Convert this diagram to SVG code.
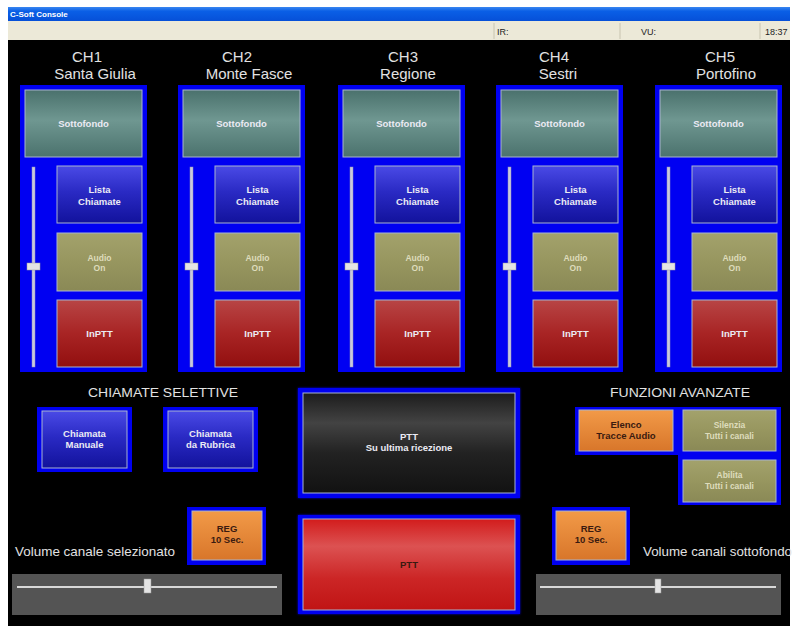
<svg xmlns="http://www.w3.org/2000/svg" width="796" height="629" viewBox="0 0 796 629">
<defs>
<linearGradient id="gTitle" x1="0" y1="0" x2="0" y2="1">
<stop offset="0" stop-color="#3a86f0"/><stop offset="0.3" stop-color="#0a5fe6"/><stop offset="1" stop-color="#0650d8"/>
</linearGradient>
<linearGradient id="gTeal" x1="0" y1="0" x2="0" y2="1">
<stop offset="0" stop-color="#4a716c"/><stop offset="0.45" stop-color="#6f9791"/><stop offset="1" stop-color="#4b726d"/>
</linearGradient>
<linearGradient id="gBlue" x1="0" y1="0" x2="0" y2="1">
<stop offset="0" stop-color="#4a4ae6"/><stop offset="0.45" stop-color="#2a2ac4"/><stop offset="1" stop-color="#12129c"/>
</linearGradient>
<linearGradient id="gOlive" x1="0" y1="0" x2="0" y2="1">
<stop offset="0" stop-color="#a3a26c"/><stop offset="0.5" stop-color="#97965f"/><stop offset="1" stop-color="#8a8956"/>
</linearGradient>
<linearGradient id="gRed" x1="0" y1="0" x2="0" y2="1">
<stop offset="0" stop-color="#b84545"/><stop offset="0.5" stop-color="#a82424"/><stop offset="1" stop-color="#920f0f"/>
</linearGradient>
<linearGradient id="gOrange" x1="0" y1="0" x2="0" y2="1">
<stop offset="0" stop-color="#f29a48"/><stop offset="1" stop-color="#d8762a"/>
</linearGradient>
<linearGradient id="gDark" x1="0" y1="0" x2="0" y2="1">
<stop offset="0" stop-color="#1c1c1c"/><stop offset="0.3" stop-color="#434343"/><stop offset="0.6" stop-color="#222"/><stop offset="1" stop-color="#121212"/>
</linearGradient>
<linearGradient id="gPtt" x1="0" y1="0" x2="0" y2="1">
<stop offset="0" stop-color="#d21c1c"/><stop offset="0.3" stop-color="#dc5252"/><stop offset="0.65" stop-color="#cc2626"/><stop offset="1" stop-color="#c01414"/>
</linearGradient>
<filter id="glow" x="-10%" y="-10%" width="120%" height="120%">
<feGaussianBlur stdDeviation="1"/>
</filter>
</defs>
<style>
.hdr{font-family:"Liberation Sans",Arial,sans-serif;font-size:15px;fill:#e2e2e2;text-anchor:middle}
.sec{font-family:"Liberation Sans",Arial,sans-serif;font-size:13.5px;fill:#e2e2e2}
.lbl{font-family:"Liberation Sans",Arial,sans-serif;font-size:9.5px;font-weight:bold;fill:#ecebf4;text-anchor:middle}
.lblo{font-family:"Liberation Sans",Arial,sans-serif;font-size:8.5px;font-weight:bold;fill:#dedcbc;text-anchor:middle}
.lbld{font-family:"Liberation Sans",Arial,sans-serif;font-size:9.5px;font-weight:bold;fill:#3a1a10;text-anchor:middle}
.st{font-family:"Liberation Sans",Arial,sans-serif;font-size:9px;fill:#222}
.panel{fill:#0000f2}
.frame{fill:#0000f0}
.btn{stroke:#a8b4d0;stroke-width:1}
.track{fill:#c9c9dc;stroke:#9090c0;stroke-width:0.5}
.thumb{fill:#e4e4e4;stroke:#9a9a9a;stroke-width:0.5}
.sbox{fill:#545454}
</style>
<rect x="0" y="0" width="796" height="629" fill="#ffffff"/>
<rect x="8" y="40" width="782" height="586" fill="#000"/>
<g id="titlebar">
<rect x="8" y="7" width="782" height="14" fill="url(#gTitle)"/>
<text x="10" y="17" font-family="Liberation Sans,Arial,sans-serif" font-size="8" font-weight="bold" fill="#fff">C-Soft Console</text>
</g>
<g id="statusbar">
<rect x="8" y="21" width="782" height="19" fill="#ece9d8"/>
<line x1="494" y1="23" x2="494" y2="39" stroke="#c8c4b0"/>
<line x1="620" y1="23" x2="620" y2="39" stroke="#c8c4b0"/>
<line x1="760" y1="23" x2="760" y2="39" stroke="#c8c4b0"/>
<text class="st" x="497" y="35">IR:</text>
<text class="st" x="641" y="35">VU:</text>
<text class="st" x="765" y="35">18:37</text>
</g>
<g id="headers">
<text class="hdr" x="87" y="62">CH1</text><text class="hdr" x="95" y="79">Santa Giulia</text>
<text class="hdr" x="237" y="62">CH2</text><text class="hdr" x="249" y="79">Monte Fasce</text>
<text class="hdr" x="403" y="62">CH3</text><text class="hdr" x="408" y="79">Regione</text>
<text class="hdr" x="554" y="62">CH4</text><text class="hdr" x="558" y="79">Sestri</text>
<text class="hdr" x="720" y="62">CH5</text><text class="hdr" x="726" y="79">Portofino</text>
</g>
<defs>
<g id="chan">
<rect class="panel" x="0" y="85" width="127" height="287"/>
<rect class="btn" x="5" y="90" width="117" height="67" fill="url(#gTeal)"/>
<text class="lbl" x="63.5" y="127">Sottofondo</text>
<rect class="track" x="12" y="167" width="3" height="200"/>
<rect class="thumb" x="7" y="263" width="13" height="7"/>
<rect class="btn" x="37" y="166" width="85" height="57" fill="url(#gBlue)"/>
<text class="lbl" x="79.5" y="193">Lista</text><text class="lbl" x="79.5" y="205">Chiamate</text>
<rect class="btn" x="37" y="233" width="85" height="58" fill="url(#gOlive)"/>
<text class="lblo" x="79.5" y="261">Audio</text><text class="lblo" x="79.5" y="271">On</text>
<rect class="btn" x="37" y="300" width="85" height="67" fill="url(#gRed)"/>
<text class="lbl" x="79.5" y="337">InPTT</text>
</g>
</defs>
<g id="ch1"><use href="#chan" transform="translate(20,0)"/></g>
<g id="ch2"><use href="#chan" transform="translate(178,0)"/></g>
<g id="ch3"><use href="#chan" transform="translate(338,0)"/></g>
<g id="ch4"><use href="#chan" transform="translate(496,0)"/></g>
<g id="ch5"><use href="#chan" transform="translate(655,0)"/></g>
<g id="chiamate-selettive">
<text class="sec" x="88" y="397" textLength="150" lengthAdjust="spacingAndGlyphs">CHIAMATE SELETTIVE</text>
<g id="chiamata-manuale">
<rect class="frame" x="37" y="407" width="95" height="65"/>
<rect class="btn" x="42" y="411" width="85" height="57" fill="url(#gBlue)"/>
<text class="lbl" x="84.5" y="437">Chiamata</text><text class="lbl" x="84.5" y="448">Manuale</text>
</g>
<g id="chiamata-rubrica">
<rect class="frame" x="163" y="407" width="95" height="65"/>
<rect class="btn" x="168" y="411" width="85" height="57" fill="url(#gBlue)"/>
<text class="lbl" x="210.5" y="437">Chiamata</text><text class="lbl" x="210.5" y="448">da Rubrica</text>
</g>
</g>
<g id="reg-left">
<rect class="frame" x="187" y="507" width="79" height="58"/>
<rect class="btn" x="192" y="511" width="70" height="49" fill="url(#gOrange)"/>
<text class="lbld" x="227" y="532">REG</text><text class="lbld" x="227" y="543">10 Sec.</text>
</g>
<g id="volume-left">
<text class="sec" x="15" y="556" textLength="160" lengthAdjust="spacingAndGlyphs">Volume canale selezionato</text>
<rect class="sbox" x="12" y="574" width="270" height="41"/>
<rect x="17" y="586" width="260" height="2" fill="#d8d8d8"/>
<rect class="thumb" x="144" y="579" width="7" height="14"/>
</g>
<g id="ptt-ultima">
<rect class="frame" x="298" y="388" width="222" height="110" filter="url(#glow)"/>
<rect class="frame" x="298" y="388" width="222" height="110"/>
<rect class="btn" x="303" y="393" width="212" height="100" fill="url(#gDark)"/>
<text class="lbl" x="409" y="440">PTT</text><text class="lbl" x="409" y="451">Su ultima ricezione</text>
</g>
<g id="ptt">
<rect class="frame" x="298" y="515" width="222" height="99" filter="url(#glow)"/>
<rect class="frame" x="298" y="515" width="222" height="99"/>
<rect class="btn" x="303" y="519" width="212" height="91" fill="url(#gPtt)"/>
<text class="lbld" x="409" y="568" fill="#6a0a0a">PTT</text>
</g>
<g id="funzioni-avanzate">
<text class="sec" x="610" y="397" textLength="140" lengthAdjust="spacingAndGlyphs">FUNZIONI AVANZATE</text>
<path class="frame" d="M575 407 H781 V505 H678 V455 H575 Z"/>
<g id="elenco">
<rect class="btn" x="579" y="410" width="94" height="41" fill="url(#gOrange)"/>
<text class="lbld" x="626" y="428">Elenco</text><text class="lbld" x="626" y="439">Tracce Audio</text>
</g>
<g id="silenzia">
<rect class="btn" x="683" y="410" width="93" height="41" fill="url(#gOlive)"/>
<text class="lblo" x="729.5" y="428" font-size="9">Silenzia</text><text class="lblo" x="729.5" y="439" font-size="9">Tutti i canali</text>
</g>
<g id="abilita">
<rect class="btn" x="683" y="460" width="93" height="42" fill="url(#gOlive)"/>
<text class="lblo" x="729.5" y="478" font-size="9">Abilita</text><text class="lblo" x="729.5" y="489" font-size="9">Tutti i canali</text>
</g>
</g>
<g id="reg-right">
<rect class="frame" x="552" y="507" width="78" height="58"/>
<rect class="btn" x="556" y="511" width="70" height="49" fill="url(#gOrange)"/>
<text class="lbld" x="591" y="532">REG</text><text class="lbld" x="591" y="543">10 Sec.</text>
</g>
<g id="volume-right">
<text class="sec" x="643" y="556" textLength="149" lengthAdjust="spacingAndGlyphs">Volume canali sottofondo</text>
<rect class="sbox" x="536" y="574" width="245" height="41"/>
<rect x="540" y="586" width="236" height="2" fill="#d8d8d8"/>
<rect class="thumb" x="655" y="579" width="6" height="14"/>
</g>
<g id="connectors"/>
</svg>
